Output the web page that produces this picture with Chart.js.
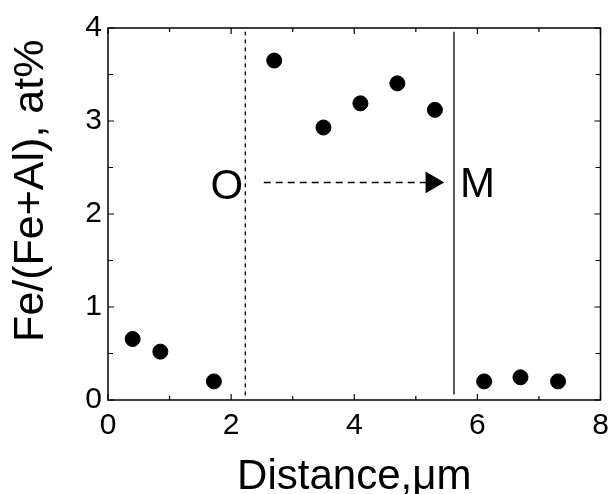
<!DOCTYPE html>
<html>
<head>
<meta charset="utf-8">
<script src="https://cdn.jsdelivr.net/npm/chart.js@4/dist/chart.umd.min.js"></script>
<style>
  html, body { margin: 0; padding: 0; background: #fff; }
  #wrap { width: 613px; height: 494px; }
</style>
</head>
<body>
<div id="wrap"><canvas id="chart"></canvas></div>
<script>
// measured points
const distance = [0.40, 0.85, 1.72, 2.70, 3.50, 4.10, 4.70, 5.31, 6.11, 6.70, 7.31];
const feRatio  = [0.656, 0.52, 0.20, 3.65, 2.93, 3.19, 3.405, 3.12, 0.20, 0.244, 0.20];

// boundaries O and M, and the arrow between them
const boundaryO = 2.23;
const boundaryM = 5.62;
const arrowFrom = 2.53;
const arrowTo = 5.26;
const arrowY = 2.34;
const labels = [
  { text: "O", x: 1.93, y: 2.29 },
  { text: "M", x: 6.00, y: 2.31 }
];

const xMajor = [0, 2, 4, 6, 8];
const xMinor = [1, 3, 5, 7];
const yMajor = [0, 1, 2, 3, 4];
const yMinor = [0.5, 1.5, 2.5, 3.5];

const yTitle = "Fe/(Fe+Al), at%";

const FONT = "'Liberation Sans', Arial, sans-serif";

// ticks pointing inward on all four sides, the frame, the y title and the O / M letters
const frameTicks = {
  id: "frameTicks",
  afterDraw(chart) {
    const ctx = chart.ctx, a = chart.chartArea;
    const sx = chart.scales.x, sy = chart.scales.y;
    ctx.save();
    ctx.strokeStyle = "#000";
    ctx.lineWidth = 1.5;
    ctx.strokeRect(a.left, a.top, a.right - a.left, a.bottom - a.top);
    ctx.lineWidth = 1.2;
    ctx.beginPath();
    xMajor.concat(xMinor).forEach(v => {
      const len = xMajor.includes(v) ? 6 : 4;
      const px = sx.getPixelForValue(v);
      ctx.moveTo(px, a.bottom); ctx.lineTo(px, a.bottom - len);
      ctx.moveTo(px, a.top); ctx.lineTo(px, a.top + len);
    });
    yMajor.concat(yMinor).forEach(v => {
      const len = yMajor.includes(v) ? 6 : 5;
      const py = sy.getPixelForValue(v);
      ctx.moveTo(a.left, py); ctx.lineTo(a.left + len, py);
      ctx.moveTo(a.right, py); ctx.lineTo(a.right - len, py);
    });
    ctx.stroke();

    ctx.fillStyle = "#000";
    ctx.font = "42px " + FONT;
    ctx.textAlign = "center";
    ctx.textBaseline = "middle";
    labels.forEach(l => {
      ctx.fillText(l.text, sx.getPixelForValue(l.x), sy.getPixelForValue(l.y));
    });

    // y title, a bit above the plot centre as in the original
    ctx.translate(31, sy.getPixelForValue(2.25));
    ctx.rotate(-Math.PI / 2);
    ctx.font = "43px " + FONT;
    ctx.fillText(yTitle, 0, 0);
    ctx.restore();
  }
};

new Chart(document.getElementById("chart"), {
  type: "scatter",
  data: {
    datasets: [
      {
        data: distance.map((x, i) => ({ x: x, y: feRatio[i] })),
        backgroundColor: "#000",
        borderColor: "#000",
        pointRadius: 7.5,
        pointHoverRadius: 7.5
      },
      {
        type: "line",
        data: [{ x: boundaryO, y: 0.05 }, { x: boundaryO, y: 3.96 }],
        borderColor: "#000",
        borderWidth: 1.3,
        borderDash: [4, 4],
        pointRadius: 0
      },
      {
        type: "line",
        data: [{ x: boundaryM, y: 0.06 }, { x: boundaryM, y: 3.96 }],
        borderColor: "#000",
        borderWidth: 1.3,
        pointRadius: 0
      },
      {
        type: "line",
        data: [{ x: arrowFrom, y: arrowY }, { x: arrowTo, y: arrowY }],
        borderColor: "#000",
        backgroundColor: "#000",
        borderWidth: 1.5,
        borderDash: [7, 5],
        pointStyle: "triangle",
        pointRotation: 90,
        pointRadius: [0, 11]
      }
    ]
  },
  options: {
    responsive: true,
    maintainAspectRatio: false,
    animation: false,
    layout: { padding: { left: 0, right: 10, top: 28, bottom: 0 } },
    plugins: {
      legend: { display: false },
      tooltip: { enabled: false }
    },
    scales: {
      x: {
        type: "linear",
        min: 0,
        max: 8,
        afterBuildTicks: s => { s.ticks = xMajor.map(v => ({ value: v })); },
        afterFit: s => { s.height = 94; s.paddingLeft = 0; s.paddingRight = 0; },
        grid: { display: false, drawTicks: false },
        border: { display: false },
        ticks: { color: "#000", padding: 8, maxRotation: 0, font: { family: FONT, size: 30 } },
        title: {
          display: true,
          text: "Distance,μm",
          color: "#000",
          padding: { top: 0, bottom: 0 },
          font: { family: FONT, size: 42, lineHeight: 0.8 }
        }
      },
      y: {
        type: "linear",
        min: 0,
        max: 4,
        afterBuildTicks: s => { s.ticks = yMajor.map(v => ({ value: v })); },
        afterFit: s => { s.width = 108; s.paddingTop = 0; s.paddingBottom = 0; },
        grid: { display: false, drawTicks: false },
        border: { display: false },
        ticks: { color: "#000", padding: 6, font: { family: FONT, size: 30 } },
        title: { display: false }
      }
    }
  },
  plugins: [frameTicks]
});
</script>
</body>
</html>
